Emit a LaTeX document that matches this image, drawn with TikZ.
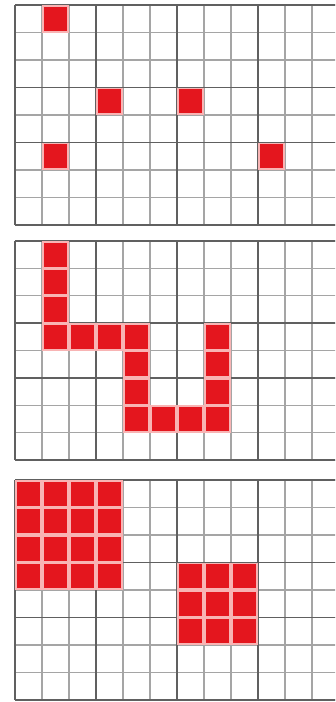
\documentclass[tikz,border=0pt]{standalone}
\usepackage{tikz}

\definecolor{cellred}{RGB}{228,22,30}
\definecolor{cellpink}{RGB}{248,180,180}
\definecolor{gridlight}{RGB}{165,165,165}
\definecolor{griddark}{RGB}{96,96,96}

\tikzset{
  thin_line/.style={draw=gridlight,line width=1.1pt},
  thick_line/.style={draw=griddark,line width=1.6pt},
  cell_edge/.style={fill=cellpink},
  cell_core/.style={fill=cellred}
}

\newcommand{\drawboard}{%
  \foreach \i in {0,...,13} \draw[thin_line] (\i,0) -- (\i,8);
  \foreach \j in {0,...,8} \draw[thin_line] (0,\j) -- (13,\j);
  \foreach \i in {0,3,6,9,12} \draw[thick_line] (\i,0) -- (\i,8);
  \foreach \j in {0,3,5,8} \draw[thick_line] (0,\j) -- (13,\j);
}

\newcommand{\redcells}[1]{%
  \foreach \c/\r in {#1} {
    \fill[cell_edge] (\c,\r) rectangle (\c+1,\r+1);
  }
  \foreach \c/\r in {#1} {
    \fill[cell_core] (\c+0.06,\r+0.06) rectangle (\c+0.94,\r+0.94);
  }
}

\begin{document}
\begin{tikzpicture}[x=1pt,y=-1pt]
\fill[white] (0,0) rectangle (335,702);
\useasboundingbox (0,0) rectangle (335,702);
\clip (0,0) rectangle (335,702);

% scattered cells
\begin{scope}[shift={(15,5)},x=27pt,y=-27.5pt]
    \drawboard
    \redcells{1/0,3/3,6/3,1/5,9/5}
\end{scope}

% path of cells
\begin{scope}[shift={(15,241)},x=27pt,y=-27.4pt]
    \drawboard
    \redcells{1/0,1/1,1/2,1/3,2/3,3/3,4/3,4/4,4/5,4/6,5/6,6/6,7/6,7/5,7/4,7/3}
\end{scope}

% blocks of cells
\begin{scope}[shift={(15,480)},x=27pt,y=-27.5pt]
    \drawboard
    \redcells{0/0,1/0,2/0,3/0,0/1,1/1,2/1,3/1,0/2,1/2,2/2,3/2,0/3,1/3,2/3,3/3,
              6/3,7/3,8/3,6/4,7/4,8/4,6/5,7/5,8/5}
\end{scope}
\end{tikzpicture}
\end{document}
